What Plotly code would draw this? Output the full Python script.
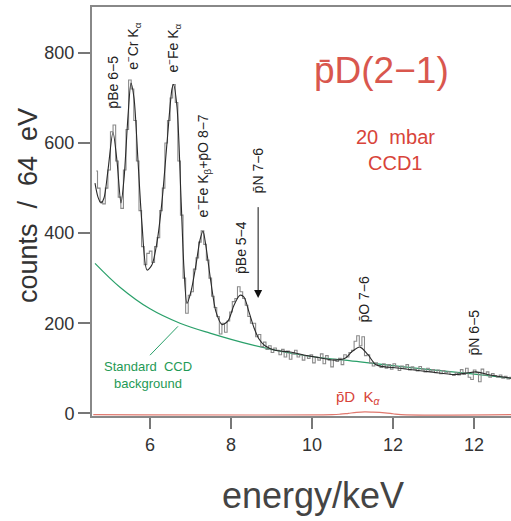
import plotly.graph_objects as go

# ---------------- data ----------------
bin_start = 4.672
bin_width = 0.064
hist_counts = [538, 500, 470, 465, 500, 540, 625, 640, 560, 480,
               455, 540, 630, 740, 720, 650, 560, 450, 370, 330,
               355, 360, 335, 370, 390, 450, 500, 600, 650, 700,
               730, 690, 560, 440, 300, 222, 262, 270, 320, 345,
               380, 405, 375, 340, 300, 260, 235, 215, 176, 200,
               180, 205, 225, 248, 255, 281, 270, 255, 240, 215,
               200, 200, 170, 175, 148, 158, 142, 150, 135, 145,
               140, 130, 142, 125, 138, 120, 132, 140, 125, 130,
               118, 128, 122, 130, 112, 125, 118, 132, 110, 128,
               118, 103, 120, 115, 122, 108, 130, 125, 135, 140,
               160, 172, 150, 170, 128, 130, 112, 105, 112, 106,
               102, 110, 100, 108, 98, 110, 104, 95, 105, 100,
               108, 96, 103, 98, 94, 104, 98, 92, 100, 94,
               97, 90, 96, 88, 95, 90, 92, 86, 84, 90,
               85, 97, 86, 100, 80, 75, 96, 90, 70, 98,
               85, 92, 80, 88, 84, 80, 85, 78, 82, 76, 80]
hist_energy = [round(bin_start + bin_width * i, 3) for i in range(len(hist_counts))]

fit_energy = [4.642, 4.716, 4.79, 4.864, 4.963, 5.086, 5.185, 5.284, 5.358, 5.457,
              5.531, 5.605, 5.704, 5.802, 5.926, 6.049, 6.173, 6.296, 6.42, 6.543,
              6.58, 6.667, 6.765, 6.84, 6.914, 7.012, 7.136, 7.235, 7.309, 7.383,
              7.506, 7.63, 7.778, 7.926, 8.074, 8.222, 8.321, 8.444, 8.568, 8.691,
              8.84, 9.086, 9.457, 9.951, 10.568, 10.815, 10.988, 11.185, 11.383, 11.58,
              12.173, 12.914, 13.531, 13.852, 14.05, 14.395, 14.914]
fit_counts = [511, 480, 467, 478, 540, 624, 560, 467, 520, 660,
              733, 700, 560, 420, 318, 330, 380, 470, 600, 720,
              730, 680, 480, 320, 244, 270, 330, 385, 404, 370,
              290, 225, 197, 205, 240, 262, 258, 225, 190, 165,
              150, 140, 136, 127, 118, 122, 137, 147, 130, 108,
              100, 92, 86, 90, 92, 85, 78]

bg_energy = [4.642, 5.259, 6.0, 6.741, 7.48, 8.47, 9.70, 11.19, 12.67, 13.9, 14.914]
bg_counts = [333, 280, 232, 200, 178, 153, 130, 114, 99, 88, 78]

pd_energy = [4.6, 10.5, 10.7, 10.9, 11.1, 11.3, 11.5, 11.8, 12.0, 12.2, 14.95]
pd_counts = [-3, -3, -2, 0, 2, 3, 2.5, 1, -1, -3, -3]

tick_vals_x = [6, 8, 10, 12, 14]
tick_text_x = ["6", "8", "10", "12", "12"]
tick_vals_y = [0, 200, 400, 600, 800]

line_labels = ["p\u0304Be\u00a06\u22125", "e<sup>\u2212</sup>Cr\u00a0K<sub>\u03b1</sub>",
               "e<sup>\u2212</sup>Fe\u00a0K<sub>\u03b1</sub>",
               "e<sup>\u2212</sup>Fe\u00a0K<sub>\u03b2</sub>+p\u0304O\u00a08\u22127",
               "p\u0304N\u00a07\u22126", "p\u0304Be\u00a05\u22124", "p\u0304O\u00a07\u22126", "p\u0304N\u00a06\u22125"]
label_energy = [5.086, 5.58, 6.57, 7.31, 8.67, 8.25, 11.26, 14.0]
label_base = [673, 758, 751, 429, 484, 304, 196, 124]

arrow_energy = 8.67
arrow_tip = 256

# ---------------- figure ----------------
FONT = "Liberation Sans, Arial, sans-serif"
RED = "#d8443a"
GREEN = "#2aa06a"
NB = "\u00a0"

fig = go.Figure()
fig.add_trace(go.Scatter(x=pd_energy, y=pd_counts, mode="lines", line=dict(color="#e0786e", width=1.2, shape="spline"),
                         hoverinfo="skip"))
fig.add_trace(go.Scatter(x=bg_energy, y=bg_counts, mode="lines", line=dict(color=GREEN, width=1.2, shape="spline"),
                         hoverinfo="skip"))
fig.add_trace(go.Scatter(x=hist_energy, y=hist_counts, mode="lines", line=dict(color="#8a8a8a", width=1.1, shape="hvh"),
                         hoverinfo="skip"))
fig.add_trace(go.Scatter(x=fit_energy, y=fit_counts, mode="lines", line=dict(color="#2a2a2a", width=1.1, shape="spline", smoothing=0.8),
                         hoverinfo="skip"))

for txt, xe, yb in zip(line_labels, label_energy, label_base):
    fig.add_annotation(x=xe, y=yb, text=txt, textangle=-90, showarrow=False, xanchor="center", yanchor="bottom",
                       font=dict(family=FONT, size=14, color="#222"))

fig.add_annotation(x=arrow_energy, y=arrow_tip, ax=arrow_energy, ay=arrow_tip + 205, axref="x", ayref="y",
                   showarrow=True, arrowhead=2, arrowsize=1.6, arrowwidth=1, arrowcolor="#111", text="")

fig.add_annotation(x=5.95, y=84, text="Standard" + NB * 2 + "CCD<br>background", showarrow=False,
                   font=dict(family=FONT, size=13, color="#1f9a55"), align="center")
fig.add_shape(type="line", x0=6.0, y0=129, x1=6.69, y1=193, line=dict(color=GREEN, width=1))

fig.add_annotation(x=11.14, y=36, text="p\u0304D" + NB * 2 + "K<sub><i>\u03b1</i></sub>", showarrow=False,
                   font=dict(family=FONT, size=15, color=RED))

fig.add_annotation(x=11.72, y=762, text="p\u0304D(2\u22121)", showarrow=False,
                   font=dict(family=FONT, size=37, color="#d9574e"))
fig.add_annotation(x=12.05, y=613, text="20" + NB * 2 + "mbar", showarrow=False,
                   font=dict(family=FONT, size=20, color=RED))
fig.add_annotation(x=12.05, y=556, text="CCD1", showarrow=False,
                   font=dict(family=FONT, size=20, color=RED))

fig.add_annotation(xref="paper", x=(28 - 92) / 419, y=460, xanchor="center", yanchor="middle",
                   text="counts" + NB * 2 + "/" + NB * 2 + "64" + NB * 2 + "eV", textangle=-90, showarrow=False,
                   font=dict(family=FONT, size=27, color="#333"))
fig.add_annotation(x=10.02, yref="paper", y=(416 - 495) / 409, xanchor="center", yanchor="middle",
                   text="energy/keV", showarrow=False,
                   font=dict(family=FONT, size=36, color="#444"))

fig.update_layout(
    width=511, height=521,
    margin=dict(l=92, r=0, t=7, b=105),
    paper_bgcolor="white", plot_bgcolor="white",
    showlegend=False,
    xaxis=dict(range=[4.568, 14.914], tickvals=tick_vals_x, ticktext=tick_text_x, ticks="outside", ticklen=11,
               tickcolor="#777", tickwidth=1.5, showline=True, linecolor="#888", linewidth=2, mirror=True,
               showgrid=False, zeroline=False, tickfont=dict(family=FONT, size=18, color="#333")),
    yaxis=dict(range=[-6, 902], tickvals=tick_vals_y, ticks="outside", ticklen=12, tickcolor="#777", tickwidth=1.5,
               showline=True, linecolor="#888", linewidth=2, showgrid=False, zeroline=False,
               tickfont=dict(family=FONT, size=18, color="#333")),
)

fig.write_html("out.html")
